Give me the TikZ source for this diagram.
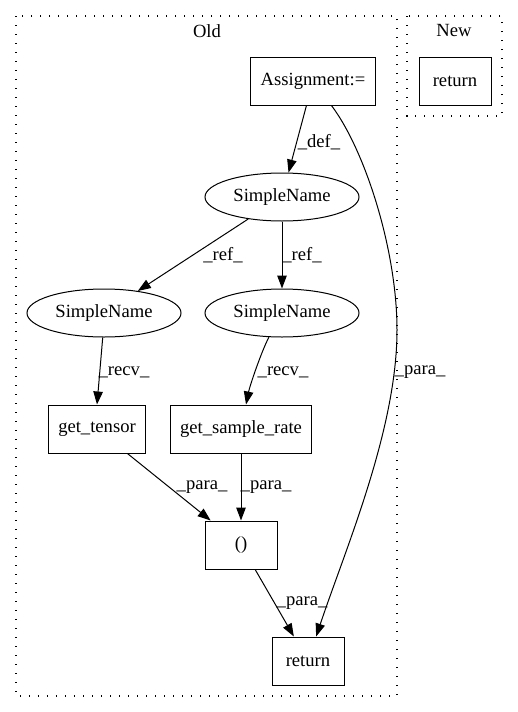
\documentclass[tikz,border=0pt]{standalone}
\usepackage{fontspec}
\setmainfont{Liberation Serif}
\usetikzlibrary{shapes.geometric,arrows.meta}
\begin{document}
\begin{tikzpicture}[x=1pt,y=-1pt,
  every node/.style={font=\fontsize{18.6}{20}\selectfont},
  box/.style={draw,line width=1pt,rectangle,inner sep=0pt,minimum height=48pt},
  ell/.style={draw,line width=1pt,ellipse,inner sep=0pt,minimum width=154pt,minimum height=48pt},
  cluster/.style={line width=1.2pt,dash pattern=on 1.3pt off 7.7pt},
  edge/.style={line width=1pt,-{Triangle[length=13pt,width=9.5pt]}},
  lbl/.style={inner sep=0pt}]
\useasboundingbox (0,0) rectangle (517,712);
\draw[cluster] (16,16) rectangle (397,696);
\draw[cluster] (407,16) rectangle (502,116);
\node (oldt) at (207,31) {Old};
\node (newt) at (454,31) {New};
\node[box,minimum width=125pt] (asg) at (313,81) {Assignment:=};
\node[box,minimum width=72pt] (nret) at (455,81) {return};
\node[ell] (sn) at (282,197) {SimpleName};
\node[ell] (snl) at (104,313) {SimpleName};
\node[ell] (snr) at (282,313) {SimpleName};
\node[box,minimum width=97pt] (gt) at (97,429) {get\_tensor};
\node[box,minimum width=141pt] (gsr) at (241,429) {get\_sample\_rate};
\node[box,minimum width=72pt] (par) at (241,545) {()};
\node[box,minimum width=72pt] (ret) at (308,661) {return};
\coordinate (mid) at (397,330);
\draw[edge] (asg) -- (sn);
\draw[edge] (sn) -- (snl);
\draw[edge] (sn.south) -- (snr.north);
\draw[edge] (snl.-93) -- (gt.north);
\draw[edge] (snr) .. controls (262,350) and (250,385) .. (gsr);
\draw[edge] (gt) -- (par);
\draw[edge] (gsr.south) -- (par.north);
\draw[edge] (par) -- (ret);
\draw[line width=1pt] (asg) .. controls (365,150) and (397,250) .. (mid);
\draw[edge] (mid) .. controls (397,430) and (345,550) .. (ret);
\node[lbl] (l1) at (319,142) {\_def\_};
\node[lbl] (l2) at (223,255) {\_ref\_};
\node[lbl] (l3) at (302,255) {\_ref\_};
\node[lbl] (l4) at (124,372) {\_recv\_};
\node[lbl] (l5) at (283,372) {\_recv\_};
\node[lbl] (l6) at (420,372) {\_para\_};
\node[lbl] (l7) at (202,487) {\_para\_};
\node[lbl] (l8) at (266,487) {\_para\_};
\node[lbl] (l9) at (302,603) {\_para\_};
\end{tikzpicture}
\end{document}
